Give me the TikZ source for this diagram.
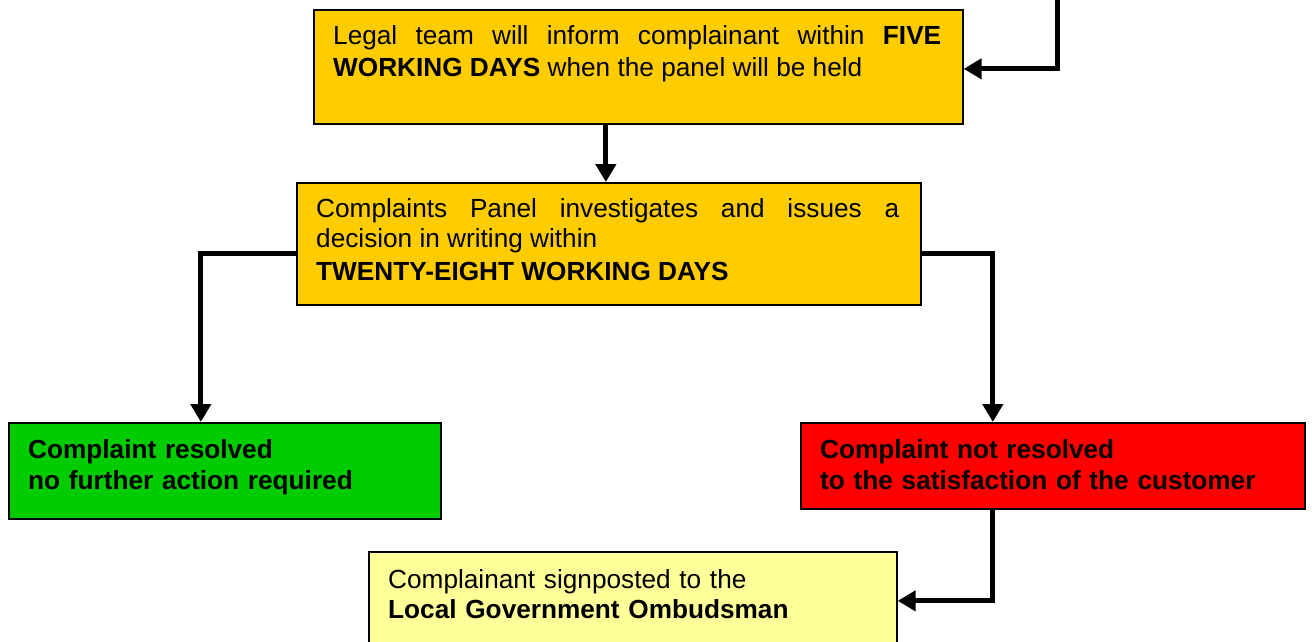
\documentclass[tikz,border=0pt]{standalone}
\usepackage{fontspec}
\setmainfont{Liberation Sans}
\usetikzlibrary{arrows.meta}
\definecolor{amber}{HTML}{FFCC00}
\definecolor{okgreen}{HTML}{00CC00}
\definecolor{alertred}{HTML}{FF0000}
\definecolor{paleyellow}{HTML}{FFFF99}
\begin{document}
\begin{tikzpicture}[x=1pt,y=-1pt,
  box/.style={draw=black, line width=1.7pt, inner sep=0pt, anchor=north west},
  boxtext/.style={anchor=base west, inner sep=0pt,
    font=\fontsize{26.2pt}{30.6pt}\selectfont},
  boldtext/.style={boxtext, font=\fontsize{26.2pt}{31pt}\selectfont\bfseries},
  flow/.style={line width=5pt, -{Triangle[width=20pt,length=18pt]}}
]
\useasboundingbox (0,0) rectangle (1312,642);
\fill[white] (0,0) rectangle (1312,642);

% boxes
\node[box, fill=amber, minimum width=649pt, minimum height=114pt] (legal) at (313,9) {};
\node[box, fill=amber, minimum width=624pt, minimum height=122pt] (panel) at (296,182) {};
\node[box, fill=okgreen, minimum width=432pt, minimum height=96pt] (resolved) at (8,422) {};
\node[box, fill=alertred, minimum width=504pt, minimum height=86pt] (unresolved) at (800,422) {};
\node[box, fill=paleyellow, minimum width=528pt, minimum height=98pt] (ombud) at (368,551) {};

% texts
\node[boxtext, text width=608pt, align=justify,
      font=\fontsize{26.2pt}{32pt}\selectfont] (legaltxt)
  at ([shift={(20pt,-36pt)}]legal.north west)
  {Legal team will inform complainant within \textbf{FIVE}\linebreak
   \textbf{WORKING DAYS} when the panel will be held};
\node[boxtext, text width=583pt, align=justify] (paneltxt)
  at ([shift={(20pt,-35pt)}]panel.north west)
  {Complaints Panel investigates and issues a\linebreak
   decision in writing within\\[2pt]
   \textbf{TWENTY-EIGHT WORKING DAYS}};
\node[boldtext, text width=391pt, align=left] (resolvedtxt)
  at ([shift={(20pt,-36pt)}]resolved.north west)
  {Complaint resolved\\ no further action required};
\node[boldtext, text width=463pt, align=left] (unresolvedtxt)
  at ([shift={(20pt,-36pt)}]unresolved.north west)
  {Complaint not resolved\\ to the satisfaction of the customer};
\node[boxtext, text width=487pt, align=left] (ombudtxt)
  at ([shift={(20pt,-37pt)}]ombud.north west)
  {Complainant signposted to the\\ \textbf{Local Government Ombudsman}};

% connectors
\coordinate (feed) at (1057,-10);
\draw[flow] (feed) |- ([yshift=-2pt]legal.east);
\draw[flow] ([xshift=-3pt]panel.north |- legal.south) -- ([xshift=-3pt]panel.north);
\draw[flow] ([yshift=-10pt]panel.west) -| ([xshift=-24pt]resolved.north);
\draw[flow] ([yshift=-10pt]panel.east) -| ([xshift=-60pt]unresolved.north);
\draw[flow] ([xshift=-60pt]unresolved.south) |- (ombud.east);
\end{tikzpicture}
\end{document}
